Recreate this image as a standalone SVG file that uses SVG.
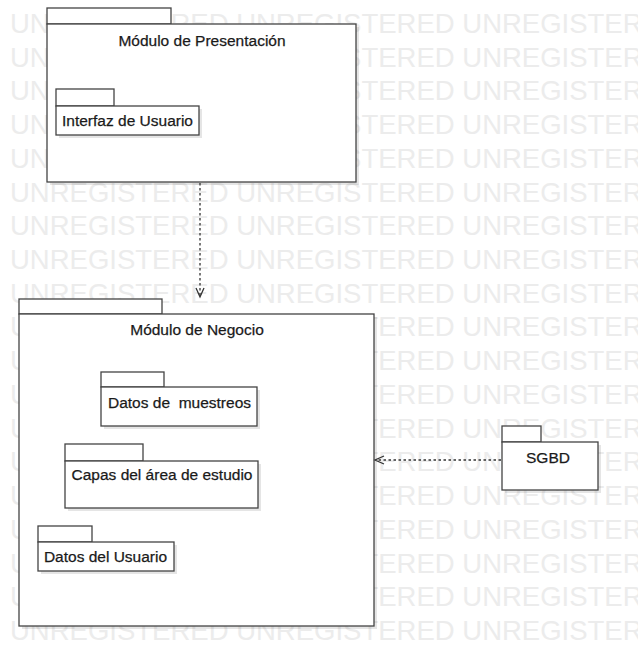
<svg xmlns="http://www.w3.org/2000/svg" width="638" height="646" viewBox="0 0 638 646">
<defs>
<style>
.wm{font-family:"Liberation Sans",Arial,sans-serif;font-size:27.5px;fill:#ececec}
.box{fill:#fff;stroke:#444;stroke-width:1.3}
.sh{fill:#000;opacity:0.1}
.lbl{font-family:"Liberation Sans",Arial,sans-serif;font-size:15.5px;fill:#1a1a1a;stroke:#1a1a1a;stroke-width:0.25;text-anchor:middle}
.dep{fill:none;stroke:#333;stroke-width:1.3;stroke-dasharray:2.5 2.5}
.head{fill:none;stroke:#333;stroke-width:1.3}
</style>
</defs>
<rect width="638" height="646" fill="#fff"/>
<g id="watermark">
<text class="wm" x="10" y="33">UNREGISTERED UNREGISTERED UNREGISTER</text>
<text class="wm" x="10" y="67">UNREGISTERED UNREGISTERED UNREGISTER</text>
<text class="wm" x="10" y="100">UNREGISTERED UNREGISTERED UNREGISTER</text>
<text class="wm" x="10" y="134">UNREGISTERED UNREGISTERED UNREGISTER</text>
<text class="wm" x="10" y="168">UNREGISTERED UNREGISTERED UNREGISTER</text>
<text class="wm" x="10" y="202">UNREGISTERED UNREGISTERED UNREGISTER</text>
<text class="wm" x="10" y="235">UNREGISTERED UNREGISTERED UNREGISTER</text>
<text class="wm" x="10" y="269">UNREGISTERED UNREGISTERED UNREGISTER</text>
<text class="wm" x="10" y="303">UNREGISTERED UNREGISTERED UNREGISTER</text>
<text class="wm" x="10" y="336">UNREGISTERED UNREGISTERED UNREGISTER</text>
<text class="wm" x="10" y="370">UNREGISTERED UNREGISTERED UNREGISTER</text>
<text class="wm" x="10" y="404">UNREGISTERED UNREGISTERED UNREGISTER</text>
<text class="wm" x="10" y="438">UNREGISTERED UNREGISTERED UNREGISTER</text>
<text class="wm" x="10" y="471">UNREGISTERED UNREGISTERED UNREGISTER</text>
<text class="wm" x="10" y="505">UNREGISTERED UNREGISTERED UNREGISTER</text>
<text class="wm" x="10" y="539">UNREGISTERED UNREGISTERED UNREGISTER</text>
<text class="wm" x="10" y="573">UNREGISTERED UNREGISTERED UNREGISTER</text>
<text class="wm" x="10" y="606">UNREGISTERED UNREGISTERED UNREGISTER</text>
<text class="wm" x="10" y="640">UNREGISTERED UNREGISTERED UNREGISTER</text>
</g>

<g id="presentacion">
<rect class="sh" x="50" y="27" width="309" height="158"/>
<rect class="box" x="47" y="8" width="124" height="16"/>
<rect class="box" x="47" y="24" width="309" height="158"/>
<text class="lbl" x="202" y="46">Módulo de Presentación</text>
</g>
<g id="interfaz">
<rect class="sh" x="59" y="109" width="143" height="29"/>
<rect class="box" x="56" y="89" width="58" height="17"/>
<rect class="box" x="56" y="106" width="143" height="29"/>
<text class="lbl" x="127.5" y="126">Interfaz de Usuario</text>
</g>

<g id="negocio">
<rect class="sh" x="22" y="317" width="355" height="312"/>
<rect class="box" x="19" y="299" width="143" height="15"/>
<rect class="box" x="19" y="314" width="355" height="312"/>
<text class="lbl" x="197" y="335">Módulo de Negocio</text>
</g>
<g id="muestreos">
<rect class="sh" x="104" y="390" width="156" height="39"/>
<rect class="box" x="101" y="372" width="63" height="15"/>
<rect class="box" x="101" y="387" width="156" height="39"/>
<text class="lbl" x="179.5" y="408" xml:space="preserve">Datos de  muestreos</text>
</g>
<g id="capas">
<rect class="sh" x="68" y="464" width="193" height="47"/>
<rect class="box" x="65" y="444" width="78" height="17"/>
<rect class="box" x="65" y="461" width="193" height="47"/>
<text class="lbl" x="162" y="480">Capas del área de estudio</text>
</g>
<g id="datosusuario">
<rect class="sh" x="41" y="545" width="136" height="29"/>
<rect class="box" x="38" y="526" width="54" height="16"/>
<rect class="box" x="38" y="542" width="136" height="29"/>
<text class="lbl" x="105.5" y="562">Datos del Usuario</text>
</g>

<g id="sgbd">
<rect class="sh" x="505" y="445" width="96" height="48"/>
<rect class="box" x="502" y="426" width="39" height="16"/>
<rect class="box" x="502" y="442" width="96" height="48"/>
<text class="lbl" x="548" y="463">SGBD</text>
</g>

<g id="connectors">
<line class="dep" x1="200" y1="183" x2="200" y2="296"/>
<polyline class="head" points="196,288 200,297 204,288"/>
<line class="dep" x1="501" y1="460" x2="376" y2="460"/>
<polyline class="head" points="384,456 375,460 384,464"/>
</g>
</svg>
